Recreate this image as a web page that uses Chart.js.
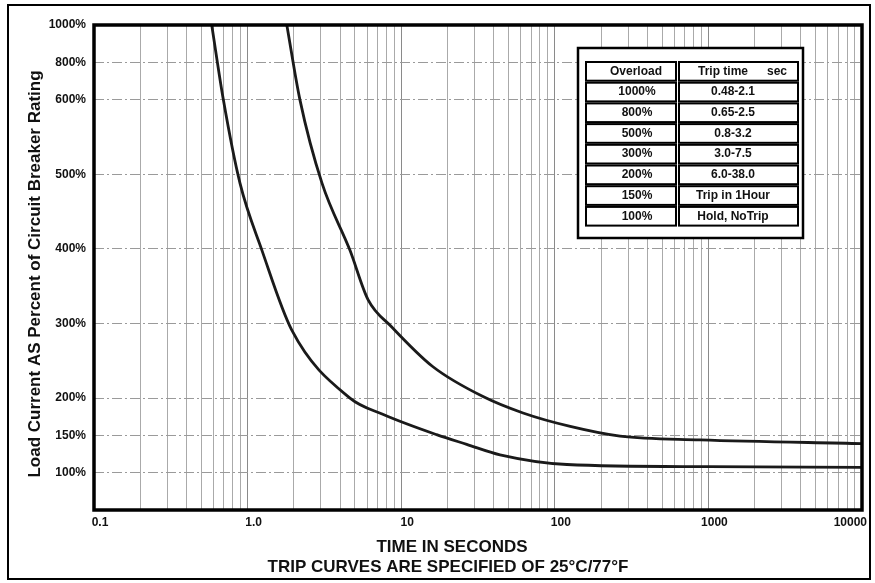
<!DOCTYPE html>
<html lang="en">
<head>
    <meta charset="UTF-8">
    <title>Trip Curves</title>
    <script src="https://cdn.jsdelivr.net/npm/chart.js"></script>
    <style>
        body {
            margin: 0;
            background-color: #fff;
        }

        #tripChart {
            display: block;
        }
    </style>
</head>
<body>
    <canvas id="tripChart" width="875" height="583"></canvas>

    <script>
        // lower (fast) trip curve: time in seconds, load in percent
        const lowerTime = [0.584, 0.695, 0.892, 1.24, 1.94, 4.64, 7.65, 17.0, 26.7, 44.0, 120, 1000, 10000];
        const lowerLoad = [1000, 600, 488, 398, 291, 200, 178, 151, 138, 124, 111, 108, 107];

        // upper (slow) trip curve
        const upperTime = [1.80, 2.19, 3.05, 4.64, 6.08, 8.71, 16.1, 34.1, 62.1, 126, 266, 882, 10000];
        const upperLoad = [1000, 600, 488, 398, 332, 295, 242, 202, 180, 162, 149, 144, 139];

        // y axis labels are not evenly spaced, each one gets a slot on the axis
        const yTickLoad = [100, 150, 200, 300, 400, 500, 600, 800, 1000];
        const yTickSlot = [0, 0.5, 1, 2, 3, 4, 5, 5.5, 6];

        // x axis
        const xDecades = [0.1, 1, 10, 100, 1000, 10000];
        const xDecadeLabels = ['0.1', '1.0', '10', '100', '1000', '10000'];

        // table in the corner
        const tableHeader = ['Overload', 'Trip time'];
        const tableLoad = ['1000%', '800%', '500%', '300%', '200%', '150%', '100%'];
        const tableTrip = ['0.48-2.1', '0.65-2.5', '0.8-3.2', '3.0-7.5', '6.0-38.0', 'Trip in 1Hour', 'Hold, NoTrip'];

        const FONT = '"Liberation Sans", Arial, sans-serif';

        // percent -> slot on the y axis (piecewise linear between labels)
        function toSlot(v) {
            for (let i = 0; i < yTickLoad.length - 1; i++) {
                if (v <= yTickLoad[i + 1]) {
                    const f = (v - yTickLoad[i]) / (yTickLoad[i + 1] - yTickLoad[i]);
                    return yTickSlot[i] + f * (yTickSlot[i + 1] - yTickSlot[i]);
                }
            }
            return yTickSlot[yTickSlot.length - 1];
        }

        function makePoints(times, loads) {
            return times.map((t, i) => ({ x: t, y: toSlot(loads[i]) }));
        }

        // all the 1..9 grid lines of every decade
        const xGrid = [];
        xDecades.forEach(d => {
            if (d === 10000) {
                xGrid.push(d);
                return;
            }
            for (let k = 1; k <= 9; k++) {
                xGrid.push(+(d * k).toPrecision(3));
            }
        });

        // frames, x labels, table and titles
        const decorPlugin = {
            id: 'decor',
            afterDraw(chart) {
                const ctx = chart.ctx;
                const a = chart.chartArea;
                ctx.save();

                // plot frame
                ctx.strokeStyle = '#000';
                ctx.lineWidth = 3.5;
                ctx.strokeRect(a.left, a.top, a.right - a.left, a.bottom - a.top);

                // outer frame
                ctx.lineWidth = 2;
                ctx.strokeRect(8, 5, 862, 574);

                // decade labels, sitting a little right of their grid line
                ctx.fillStyle = '#111';
                ctx.font = 'bold 12px ' + FONT;
                ctx.textAlign = 'center';
                ctx.textBaseline = 'middle';
                const xs = chart.scales.x;
                xDecades.forEach((d, i) => {
                    const w = ctx.measureText(xDecadeLabels[i]).width;
                    let cx = xs.getPixelForValue(d) + 6;
                    cx = Math.min(cx, 867 - w / 2);
                    ctx.fillText(xDecadeLabels[i], cx, a.bottom + 13);
                });

                // table
                const tx = 578, ty = 48, tw = 225, th = 190;
                ctx.fillStyle = '#fff';
                ctx.fillRect(tx, ty, tw, th);
                ctx.lineWidth = 2.5;
                ctx.strokeRect(tx, ty, tw, th);

                const left = 585, mid = 677, right = 799, top = 61, rowH = 20.7;
                const rows = tableLoad.length + 1;
                ctx.lineWidth = 2;
                for (let r = 0; r < rows; r++) {
                    const y = top + r * rowH;
                    ctx.strokeRect(left + 1, y + 1, mid - left - 2, rowH - 2);
                    ctx.strokeRect(mid + 2, y + 1, right - mid - 3, rowH - 2);
                }

                ctx.fillStyle = '#111';
                ctx.fillText(tableHeader[0], 636, top + rowH / 2);
                ctx.fillText(tableHeader[1], 723, top + rowH / 2);
                ctx.fillText('sec', 777, top + rowH / 2);
                for (let r = 0; r < tableLoad.length; r++) {
                    const y = top + (r + 1) * rowH + rowH / 2;
                    ctx.fillText(tableLoad[r], 637, y);
                    ctx.fillText(tableTrip[r], 733, y);
                }

                // axis titles
                ctx.font = 'bold 17px ' + FONT;
                ctx.fillText('TIME IN SECONDS', 452, 547);
                ctx.fillText('TRIP CURVES ARE SPECIFIED OF 25°C/77°F', 448, 567);

                ctx.translate(35, 274);
                ctx.rotate(-Math.PI / 2);
                ctx.fillText('Load Current AS Percent of Circuit Breaker Rating', 0, 0);

                ctx.restore();
            }
        };

        const ctx = document.getElementById('tripChart').getContext('2d');
        const tripChart = new Chart(ctx, {
            type: 'line',
            data: {
                datasets: [
                    {
                        label: 'Minimum trip time',
                        data: makePoints(lowerTime, lowerLoad),
                        borderColor: '#1a1a1a',
                        borderWidth: 2.8,
                        pointRadius: 0,
                        cubicInterpolationMode: 'monotone'
                    },
                    {
                        label: 'Maximum trip time',
                        data: makePoints(upperTime, upperLoad),
                        borderColor: '#1a1a1a',
                        borderWidth: 2.8,
                        pointRadius: 0,
                        cubicInterpolationMode: 'monotone'
                    }
                ]
            },
            options: {
                responsive: false,
                animation: false,
                layout: {
                    padding: { top: 25, right: 13, left: 0, bottom: 0 }
                },
                plugins: {
                    legend: { display: false },
                    tooltip: { enabled: false }
                },
                scales: {
                    x: {
                        type: 'logarithmic',
                        min: 0.1,
                        max: 10000,
                        afterBuildTicks: scale => {
                            scale.ticks = xGrid.map(v => ({ value: v }));
                        },
                        afterFit: scale => {
                            scale.height = 73;
                            scale.paddingLeft = 0;
                            scale.paddingRight = 0;
                        },
                        ticks: {
                            display: false,
                            autoSkip: false,
                            maxRotation: 0
                        },
                        grid: {
                            drawTicks: false,
                            lineWidth: 1,
                            color: c => {
                                const v = c.tick ? c.tick.value : 0;
                                return xDecades.some(d => Math.abs(d - v) < d * 1e-6) ? '#8a8a8a' : '#aaaaaa';
                            }
                        },
                        border: { display: false }
                    },
                    y: {
                        type: 'linear',
                        min: -0.5,
                        max: 6,
                        afterBuildTicks: scale => {
                            scale.ticks = yTickSlot.map(v => ({ value: v }));
                        },
                        afterFit: scale => {
                            scale.width = 94;
                            scale.paddingTop = 0;
                            scale.paddingBottom = 0;
                        },
                        ticks: {
                            autoSkip: false,
                            padding: 8,
                            color: '#111',
                            font: { family: FONT, size: 12, weight: 'bold' },
                            callback: value => {
                                const i = yTickSlot.indexOf(value);
                                return i >= 0 ? yTickLoad[i] + '%' : '';
                            }
                        },
                        grid: {
                            drawTicks: false,
                            lineWidth: 1,
                            color: '#9a9a9a'
                        },
                        border: { display: false, dash: [10, 3, 2, 3] }
                    }
                }
            },
            plugins: [decorPlugin]
        });
    </script>
</body>
</html>
